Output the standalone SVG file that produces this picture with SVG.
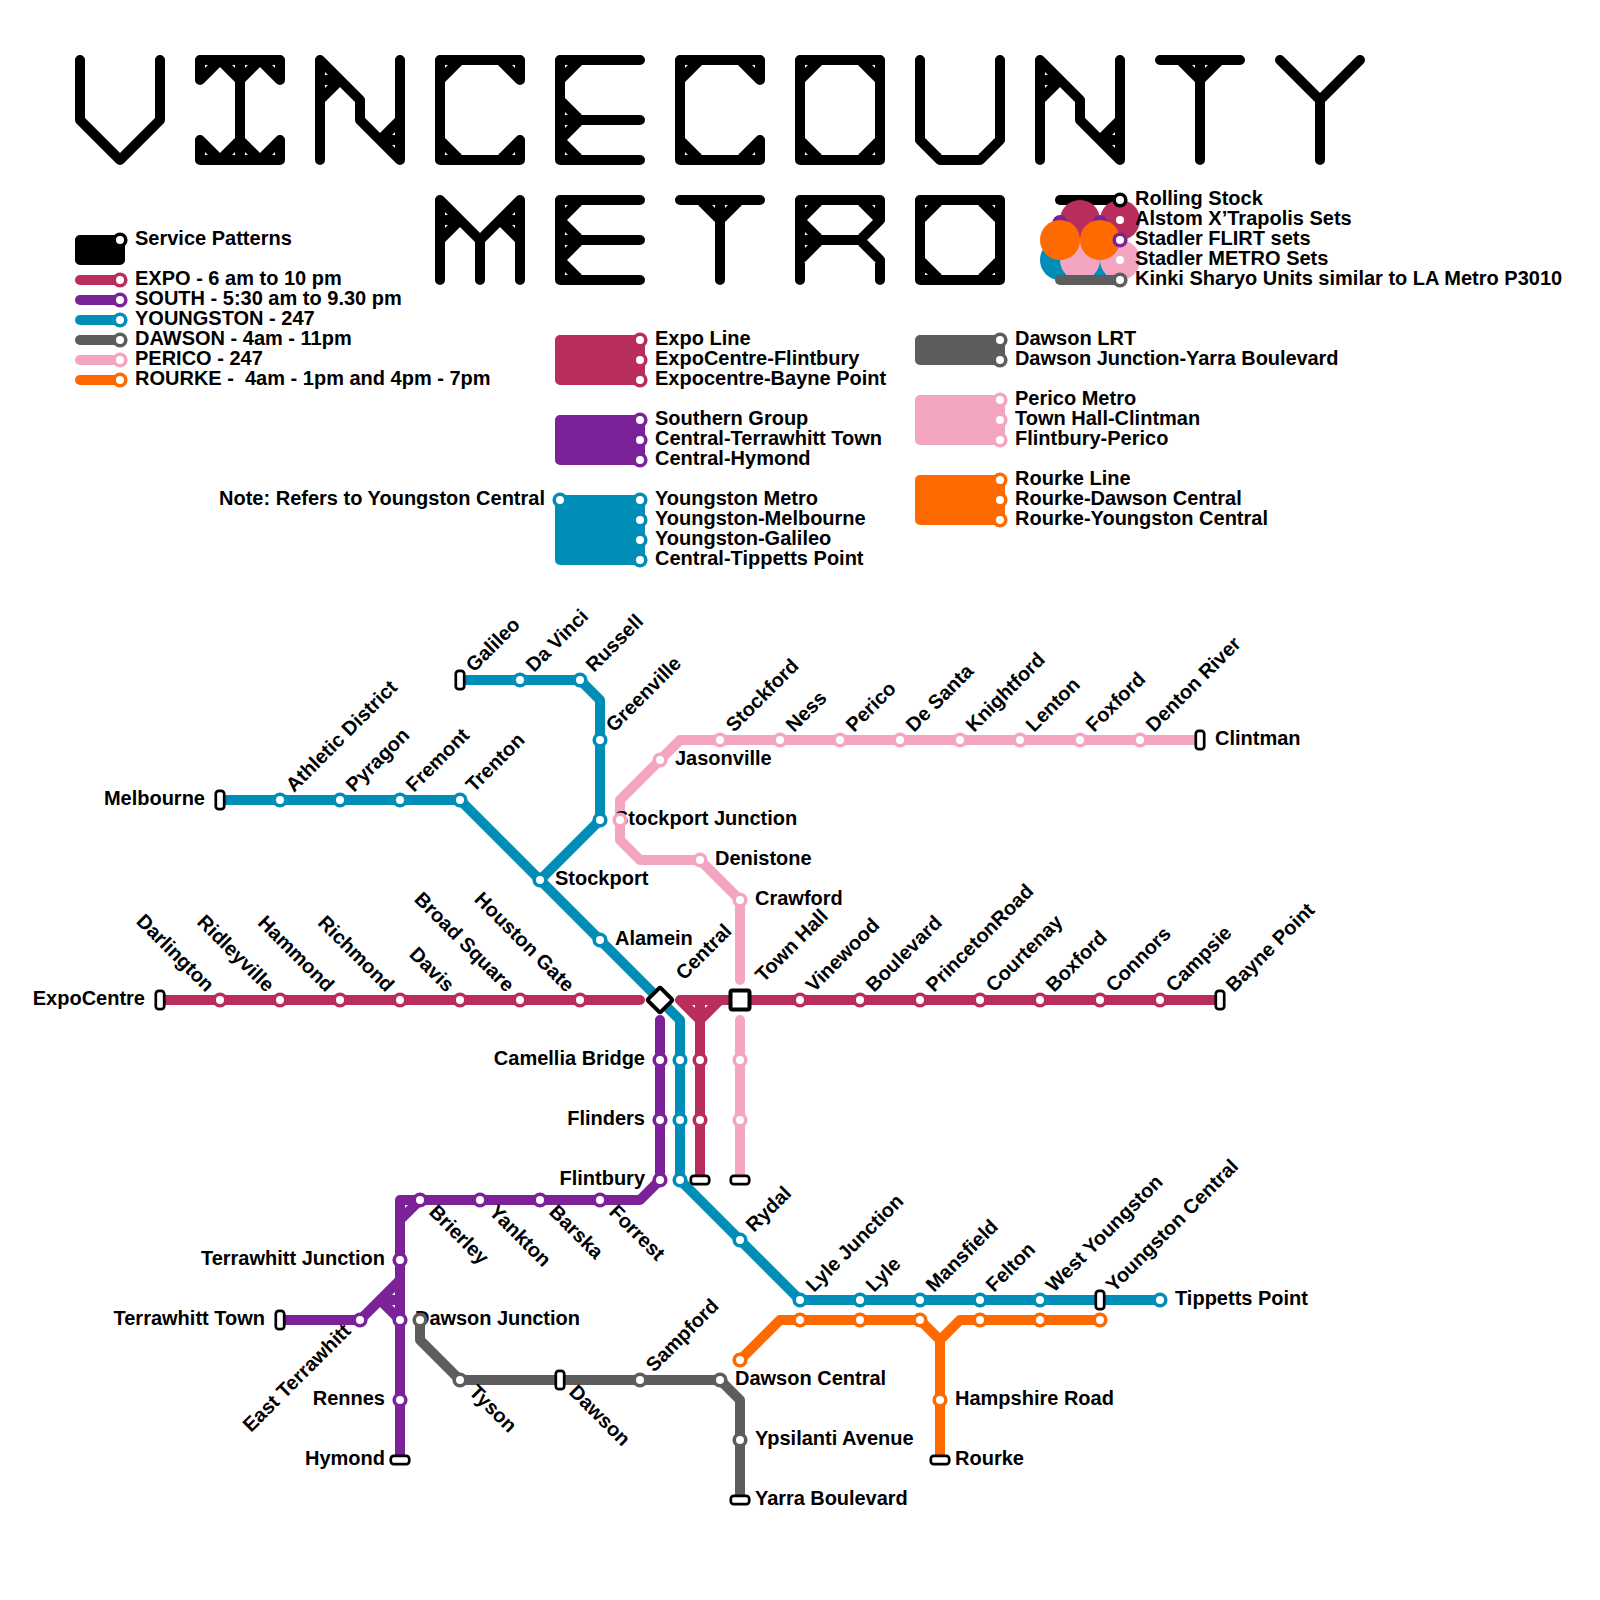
<svg xmlns="http://www.w3.org/2000/svg" width="1600" height="1600" viewBox="0 0 1600 1600">
<style>
text{font-family:"Liberation Sans",Arial,sans-serif;font-weight:bold;font-size:20px;fill:#000;white-space:pre}
.e{text-anchor:end}
.l{fill:none;stroke-width:10;stroke-linecap:round;stroke-linejoin:round}
.f{stroke-width:10;stroke-linecap:round;stroke-linejoin:round}
.s{fill:#fff;stroke-width:3.6}
.t{fill:#fff;stroke:#000;stroke-width:2.7}
.k{stroke:#000}.kf{fill:#000;stroke:#000}
.c{stroke:#b92d5d}.cf{fill:#b92d5d;stroke:#b92d5d}
.p{stroke:#7b2299}.pf{fill:#7b2299;stroke:#7b2299}
.b{stroke:#008eb8}.bf{fill:#008eb8;stroke:#008eb8}
.g{stroke:#5d5d5d}.gf{fill:#5d5d5d;stroke:#5d5d5d}
.n{stroke:#f4a5c2}.nf{fill:#f4a5c2;stroke:#f4a5c2}
.o{stroke:#ff6a00}.of{fill:#ff6a00;stroke:#ff6a00}
</style>
<defs>
<rect id="th" x="-9.2" y="-4.2" width="18.4" height="8.4" rx="3"/>
<rect id="tv" x="-4.2" y="-9.2" width="8.4" height="18.4" rx="3"/>
<circle id="st" r="5.8"/>
</defs>
<g id="title" class="l k">
<path d="M80 60V120L120 160L160 120V60"/>
<path d="M200 80V60H280V80M200 80L220 60L240 80L260 60L280 80M240 60V160M200 140L220 160L240 140L260 160L280 140M200 140V160H280V140"/>
<path d="M320 160V60L360 100V120L400 160V60M320 100L340 80H320M400 120L380 140H400"/>
<path d="M520 80V60H440V160H520V140M440 80L460 60M500 60L520 80M440 140L460 160M500 160L520 140"/>
<path d="M640 60H560V160H640M560 80L580 60M560 100L580 120L560 140L580 160M560 120H640"/>
<path d="M760 80V60H680V160H760V140M680 80L700 60M740 60L760 80M680 140L700 160M740 160L760 140"/>
<path d="M800 60H880V160H800ZM800 80L820 60M860 60L880 80M800 140L820 160M860 160L880 140"/>
<path d="M920 60V140L940 160H980L1000 140V60"/>
<path d="M1040 160V60L1080 100V120L1120 160V60M1040 100L1060 80H1040M1120 120L1100 140H1120"/>
<path d="M1160 60H1240M1200 60V160M1180 60L1200 80L1220 60"/>
<path d="M1280 60L1320 100L1360 60M1320 100V160"/>
<path d="M440 280V200L480 240L520 200V280M480 240V280M440 240L460 220H440M520 240L500 220H520"/>
<path d="M640 200H560V280H640M560 220L580 200M560 220L580 240L560 260L580 280M560 240H640"/>
<path d="M680 200H760M720 200V280M700 200L720 220L740 200"/>
<path d="M800 280V200H880V220L860 240H800M800 220L820 200M860 200L880 220M800 220L820 240L800 260M860 240L880 260V280"/>
<path d="M920 200H1000V280H920ZM920 220L940 200M980 200L1000 220M920 260L940 280M980 280L1000 260"/>
</g>
<g id="legend-rolling-stock">
<path class="l k" d="M1060 200H1120"/>
<circle cx="1080" cy="220" r="20" fill="#b92d5d"/><circle cx="1120" cy="220" r="20" fill="#b92d5d"/>
<circle cx="1060" cy="222.5" r="7.5" fill="#7b2299"/><circle cx="1100" cy="222.5" r="7.5" fill="#7b2299"/>
<circle cx="1060" cy="260" r="20" fill="#008eb8"/><circle cx="1100" cy="260" r="20" fill="#008eb8"/>
<circle cx="1080" cy="260" r="20" fill="#f4a5c2"/><circle cx="1120" cy="260" r="20" fill="#f4a5c2"/>
<circle cx="1060" cy="240" r="20" fill="#ff6a00"/><circle cx="1100" cy="240" r="20" fill="#ff6a00"/>
<path class="l g" d="M1060 280H1120"/>
<use href="#st" x="1120" y="200" class="s k"/><use href="#st" x="1120" y="220" class="s c"/><use href="#st" x="1120" y="240" class="s p"/><use href="#st" x="1120" y="260" class="s n"/><use href="#st" x="1120" y="280" class="s g"/>
<text x="1135" y="205">Rolling Stock</text><text x="1135" y="225">Alstom X’Trapolis Sets</text><text x="1135" y="245">Stadler FLIRT sets</text><text x="1135" y="265">Stadler METRO Sets</text><text x="1135" y="285">Kinki Sharyo Units similar to LA Metro P3010</text>
</g>
<g id="legend-service">
<path class="f kf" d="M80 240H120V260H80Z"/><use href="#st" x="120" y="240" class="s k"/><text x="135" y="245">Service Patterns</text>
<path class="l c" d="M80 280H120"/><use href="#st" x="120" y="280" class="s c"/><text x="135" y="285">EXPO - 6 am to 10 pm</text>
<path class="l p" d="M80 300H120"/><use href="#st" x="120" y="300" class="s p"/><text x="135" y="305">SOUTH - 5:30 am to 9.30 pm</text>
<path class="l b" d="M80 320H120"/><use href="#st" x="120" y="320" class="s b"/><text x="135" y="325">YOUNGSTON - 247</text>
<path class="l g" d="M80 340H120"/><use href="#st" x="120" y="340" class="s g"/><text x="135" y="345">DAWSON - 4am - 11pm</text>
<path class="l n" d="M80 360H120"/><use href="#st" x="120" y="360" class="s n"/><text x="135" y="365">PERICO - 247</text>
<path class="l o" d="M80 380H120"/><use href="#st" x="120" y="380" class="s o"/><text x="135" y="385">ROURKE -  4am - 1pm and 4pm - 7pm</text>
</g>
<g id="legend-expo"><path class="f cf" d="M560 340H640V380H560Z"/><use href="#st" x="640" y="340" class="s c"/><use href="#st" x="640" y="360" class="s c"/><use href="#st" x="640" y="380" class="s c"/>
<text x="655" y="345">Expo Line</text><text x="655" y="365">ExpoCentre-Flintbury</text><text x="655" y="385">Expocentre-Bayne Point</text></g>
<g id="legend-south"><path class="f pf" d="M560 420H640V460H560Z"/><use href="#st" x="640" y="420" class="s p"/><use href="#st" x="640" y="440" class="s p"/><use href="#st" x="640" y="460" class="s p"/>
<text x="655" y="425">Southern Group</text><text x="655" y="445">Central-Terrawhitt Town</text><text x="655" y="465">Central-Hymond</text></g>
<g id="legend-youngston"><path class="f bf" d="M560 500H640V560H560Z"/><use href="#st" x="560" y="500" class="s b"/><use href="#st" x="640" y="500" class="s b"/><use href="#st" x="640" y="520" class="s b"/><use href="#st" x="640" y="540" class="s b"/><use href="#st" x="640" y="560" class="s b"/>
<text x="545" y="505" class="e">Note: Refers to Youngston Central</text>
<text x="655" y="505">Youngston Metro</text><text x="655" y="525">Youngston-Melbourne</text><text x="655" y="545">Youngston-Galileo</text><text x="655" y="565">Central-Tippetts Point</text></g>
<g id="legend-dawson"><path class="f gf" d="M920 340H1000V360H920Z"/><use href="#st" x="1000" y="340" class="s g"/><use href="#st" x="1000" y="360" class="s g"/>
<text x="1015" y="345">Dawson LRT</text><text x="1015" y="365" letter-spacing="-0.07">Dawson Junction-Yarra Boulevard</text></g>
<g id="legend-perico"><path class="f nf" d="M920 400H1000V440H920Z"/><use href="#st" x="1000" y="400" class="s n"/><use href="#st" x="1000" y="420" class="s n"/><use href="#st" x="1000" y="440" class="s n"/>
<text x="1015" y="405">Perico Metro</text><text x="1015" y="425">Town Hall-Clintman</text><text x="1015" y="445">Flintbury-Perico</text></g>
<g id="legend-rourke"><path class="f of" d="M920 480H1000V520H920Z"/><use href="#st" x="1000" y="480" class="s o"/><use href="#st" x="1000" y="500" class="s o"/><use href="#st" x="1000" y="520" class="s o"/>
<text x="1015" y="485">Rourke Line</text><text x="1015" y="505">Rourke-Dawson Central</text><text x="1015" y="525">Rourke-Youngston Central</text></g>

<g id="connectors">
<path class="l b" d="M220 800H460L680 1020V1180L800 1300H1160M460 680H580L600 700V820L540 880"/>
<path class="l c" d="M160 1000H640M680 1000H1220M700 1000V1180M680 1000L700 1020L720 1000"/>
<path class="l p" d="M660 1020V1180L640 1200H400V1460M420 1200L400 1220M280 1320H360L400 1280M380 1300L400 1320M380 1300H400"/>
<path class="l g" d="M420 1320V1340L460 1380H720L740 1400V1500"/>
<path class="l n" d="M1200 740H680L620 800V840L640 860H700L740 900V980M740 1020V1180"/>
<path class="l o" d="M740 1360L780 1320H920L940 1340V1460M940 1340L960 1320H1100"/>
</g>

<g id="n-melbourne"><use href="#tv" x="220" y="800" class="t"/><text x="205" y="805" class="e">Melbourne</text></g>
<g id="n-athletic"><use href="#st" x="280" y="800" class="s b"/><text transform="translate(294 793) rotate(-45)">Athletic District</text></g>
<g id="n-pyragon"><use href="#st" x="340" y="800" class="s b"/><text transform="translate(354 793) rotate(-45)">Pyragon</text></g>
<g id="n-fremont"><use href="#st" x="400" y="800" class="s b"/><text transform="translate(414 793) rotate(-45)">Fremont</text></g>
<g id="n-trenton"><use href="#st" x="460" y="800" class="s b"/><text transform="translate(474 793) rotate(-45)">Trenton</text></g>
<g id="n-galileo"><use href="#tv" x="460" y="680" class="t"/><text transform="translate(474 673) rotate(-45)">Galileo</text></g>
<g id="n-davinci"><use href="#st" x="520" y="680" class="s b"/><text transform="translate(534 673) rotate(-45)">Da Vinci</text></g>
<g id="n-russell"><use href="#st" x="580" y="680" class="s b"/><text transform="translate(594 673) rotate(-45)">Russell</text></g>
<g id="n-greenville"><use href="#st" x="600" y="740" class="s b"/><text transform="translate(614 733) rotate(-45)">Greenville</text></g>
<g id="n-stockport-junction"><use href="#st" x="600" y="820" class="s b"/><text x="615" y="825">Stockport Junction</text></g>
<g id="n-stockport"><use href="#st" x="540" y="880" class="s b"/><text x="555" y="885">Stockport</text></g>
<g id="n-alamein"><use href="#st" x="600" y="940" class="s b"/><text x="615" y="945">Alamein</text></g>

<g id="n-expocentre"><use href="#tv" x="160" y="1000" class="t"/><text x="145" y="1005" class="e">ExpoCentre</text></g>
<g id="n-darlington"><use href="#st" x="220" y="1000" class="s c"/><text transform="translate(206 993) rotate(45)" class="e">Darlington</text></g>
<g id="n-ridleyville"><use href="#st" x="280" y="1000" class="s c"/><text transform="translate(266 993) rotate(45)" class="e">Ridleyville</text></g>
<g id="n-hammond"><use href="#st" x="340" y="1000" class="s c"/><text transform="translate(326 993) rotate(45)" class="e">Hammond</text></g>
<g id="n-richmond"><use href="#st" x="400" y="1000" class="s c"/><text transform="translate(386 993) rotate(45)" class="e">Richmond</text></g>
<g id="n-davis"><use href="#st" x="460" y="1000" class="s c"/><text transform="translate(446 993) rotate(45)" class="e">Davis</text></g>
<g id="n-broad-square"><use href="#st" x="520" y="1000" class="s c"/><text transform="translate(506 993) rotate(45)" class="e">Broad Square</text></g>
<g id="n-houston-gate"><use href="#st" x="580" y="1000" class="s c"/><text transform="translate(566 993) rotate(45)" class="e">Houston Gate</text></g>
<g id="n-central"><rect x="-9" y="-9" width="18" height="18" rx="1.5" transform="translate(660 1000) rotate(45)" fill="#fff" stroke="#000" stroke-width="4"/><text transform="translate(684 981) rotate(-45)">Central</text></g>
<g id="n-town-hall"><rect x="730.5" y="990.5" width="19" height="19" rx="2" fill="#fff" stroke="#000" stroke-width="4"/><text transform="translate(763.5 983) rotate(-45)">Town Hall</text></g>
<g id="n-vinewood"><use href="#st" x="800" y="1000" class="s c"/><text transform="translate(814 993) rotate(-45)">Vinewood</text></g>
<g id="n-boulevard"><use href="#st" x="860" y="1000" class="s c"/><text transform="translate(874 993) rotate(-45)">Boulevard</text></g>
<g id="n-princeton"><use href="#st" x="920" y="1000" class="s c"/><text transform="translate(934 993) rotate(-45)">PrincetonRoad</text></g>
<g id="n-courtenay"><use href="#st" x="980" y="1000" class="s c"/><text transform="translate(994 993) rotate(-45)">Courtenay</text></g>
<g id="n-boxford"><use href="#st" x="1040" y="1000" class="s c"/><text transform="translate(1054 993) rotate(-45)">Boxford</text></g>
<g id="n-connors"><use href="#st" x="1100" y="1000" class="s c"/><text transform="translate(1114 993) rotate(-45)">Connors</text></g>
<g id="n-campsie"><use href="#st" x="1160" y="1000" class="s c"/><text transform="translate(1174 993) rotate(-45)">Campsie</text></g>
<g id="n-bayne-point"><use href="#tv" x="1220" y="1000" class="t"/><text transform="translate(1234 993) rotate(-45)">Bayne Point</text></g>
<g id="n-expo-1060"><use href="#st" x="700" y="1060" class="s c"/></g>
<g id="n-expo-1120"><use href="#st" x="700" y="1120" class="s c"/></g>
<g id="n-expo-end"><use href="#th" x="700" y="1180" class="t"/></g>

<g id="n-camellia"><use href="#st" x="660" y="1060" class="s p"/><use href="#st" x="680" y="1060" class="s b"/><text x="645" y="1065" class="e">Camellia Bridge</text></g>
<g id="n-flinders"><use href="#st" x="660" y="1120" class="s p"/><use href="#st" x="680" y="1120" class="s b"/><text x="645" y="1125" class="e">Flinders</text></g>
<g id="n-flintbury"><use href="#st" x="660" y="1180" class="s p"/><use href="#st" x="680" y="1180" class="s b"/><text x="645" y="1185" class="e">Flintbury</text></g>
<g id="n-forrest"><use href="#st" x="600" y="1200" class="s p"/><text transform="translate(608 1213) rotate(45)">Forrest</text></g>
<g id="n-barska"><use href="#st" x="540" y="1200" class="s p"/><text transform="translate(548 1213) rotate(45)">Barska</text></g>
<g id="n-yankton"><use href="#st" x="480" y="1200" class="s p"/><text transform="translate(488 1213) rotate(45)">Yankton</text></g>
<g id="n-brierley"><use href="#st" x="420" y="1200" class="s p"/><text transform="translate(428 1213) rotate(45)">Brierley</text></g>
<g id="n-terrawhitt-junction"><use href="#st" x="400" y="1260" class="s p"/><text x="385" y="1265" class="e">Terrawhitt Junction</text></g>
<g id="n-terrawhitt-town"><use href="#tv" x="280" y="1320" class="t"/><text x="265" y="1325" class="e">Terrawhitt Town</text></g>
<g id="n-east-terrawhitt"><use href="#st" x="360" y="1320" class="s p"/><text transform="translate(352 1332) rotate(-45)" class="e">East Terrawhitt</text></g>
<g id="n-dawson-junction-south"><use href="#st" x="400" y="1320" class="s p"/><text x="415" y="1325" letter-spacing="-0.05">Dawson Junction</text></g>
<g id="n-rennes"><use href="#st" x="400" y="1400" class="s p"/><text x="385" y="1405" class="e">Rennes</text></g>
<g id="n-hymond"><use href="#th" x="400" y="1460" class="t"/><text x="385" y="1465" class="e">Hymond</text></g>

<g id="n-rydal"><use href="#st" x="740" y="1240" class="s b"/><text transform="translate(754 1233) rotate(-45)">Rydal</text></g>
<g id="n-lyle-junction"><use href="#st" x="800" y="1300" class="s b"/><use href="#st" x="800" y="1320" class="s o"/><text transform="translate(814 1293) rotate(-45)">Lyle Junction</text></g>
<g id="n-lyle"><use href="#st" x="860" y="1300" class="s b"/><use href="#st" x="860" y="1320" class="s o"/><text transform="translate(874 1293) rotate(-45)">Lyle</text></g>
<g id="n-mansfield"><use href="#st" x="920" y="1300" class="s b"/><use href="#st" x="920" y="1320" class="s o"/><text transform="translate(934 1293) rotate(-45)">Mansfield</text></g>
<g id="n-felton"><use href="#st" x="980" y="1300" class="s b"/><use href="#st" x="980" y="1320" class="s o"/><text transform="translate(994 1293) rotate(-45)">Felton</text></g>
<g id="n-west-youngston"><use href="#st" x="1040" y="1300" class="s b"/><use href="#st" x="1040" y="1320" class="s o"/><text transform="translate(1054 1293) rotate(-45)">West Youngston</text></g>
<g id="n-youngston-central"><use href="#tv" x="1100" y="1300" class="t"/><use href="#st" x="1100" y="1320" class="s o"/><text transform="translate(1114 1293) rotate(-45)">Youngston Central</text></g>
<g id="n-tippetts"><use href="#st" x="1160" y="1300" class="s b"/><text x="1175" y="1305">Tippetts Point</text></g>

<g id="n-clintman"><use href="#tv" x="1200" y="740" class="t"/><text x="1215" y="745">Clintman</text></g>
<g id="n-denton-river"><use href="#st" x="1140" y="740" class="s n"/><text transform="translate(1154 733) rotate(-45)">Denton River</text></g>
<g id="n-foxford"><use href="#st" x="1080" y="740" class="s n"/><text transform="translate(1094 733) rotate(-45)">Foxford</text></g>
<g id="n-lenton"><use href="#st" x="1020" y="740" class="s n"/><text transform="translate(1034 733) rotate(-45)">Lenton</text></g>
<g id="n-knightford"><use href="#st" x="960" y="740" class="s n"/><text transform="translate(974 733) rotate(-45)">Knightford</text></g>
<g id="n-de-santa"><use href="#st" x="900" y="740" class="s n"/><text transform="translate(914 733) rotate(-45)">De Santa</text></g>
<g id="n-perico"><use href="#st" x="840" y="740" class="s n"/><text transform="translate(854 733) rotate(-45)">Perico</text></g>
<g id="n-ness"><use href="#st" x="780" y="740" class="s n"/><text transform="translate(794 733) rotate(-45)">Ness</text></g>
<g id="n-stockford"><use href="#st" x="720" y="740" class="s n"/><text transform="translate(734 733) rotate(-45)">Stockford</text></g>
<g id="n-jasonville"><use href="#st" x="660" y="760" class="s n"/><text x="675" y="765">Jasonville</text></g>
<g id="n-stockport-junction-perico"><use href="#st" x="620" y="820" class="s n"/></g>
<g id="n-denistone"><use href="#st" x="700" y="860" class="s n"/><text x="715" y="865">Denistone</text></g>
<g id="n-crawford"><use href="#st" x="740" y="900" class="s n"/><text x="755" y="905">Crawford</text></g>
<g id="n-perico-1060"><use href="#st" x="740" y="1060" class="s n"/></g>
<g id="n-perico-1120"><use href="#st" x="740" y="1120" class="s n"/></g>
<g id="n-perico-end"><use href="#th" x="740" y="1180" class="t"/></g>

<g id="n-dawson-junction"><use href="#st" x="420" y="1320" class="s g"/></g>
<g id="n-tyson"><use href="#st" x="460" y="1380" class="s g"/><text transform="translate(468 1393) rotate(45)">Tyson</text></g>
<g id="n-dawson"><use href="#tv" x="560" y="1380" class="t"/><text transform="translate(568 1393) rotate(45)">Dawson</text></g>
<g id="n-sampford"><use href="#st" x="640" y="1380" class="s g"/><text transform="translate(654 1373) rotate(-45)">Sampford</text></g>
<g id="n-dawson-central-lrt"><use href="#st" x="720" y="1380" class="s g"/><text x="735" y="1385">Dawson Central</text></g>
<g id="n-ypsilanti"><use href="#st" x="740" y="1440" class="s g"/><text x="755" y="1445">Ypsilanti Avenue</text></g>
<g id="n-yarra"><use href="#th" x="740" y="1500" class="t"/><text x="755" y="1505" letter-spacing="-0.05">Yarra Boulevard</text></g>

<g id="n-dawson-central"><use href="#st" x="740" y="1360" class="s o"/></g>
<g id="n-hampshire"><use href="#st" x="940" y="1400" class="s o"/><text x="955" y="1405">Hampshire Road</text></g>
<g id="n-rourke"><use href="#th" x="940" y="1460" class="t"/><text x="955" y="1465">Rourke</text></g>
</svg>
